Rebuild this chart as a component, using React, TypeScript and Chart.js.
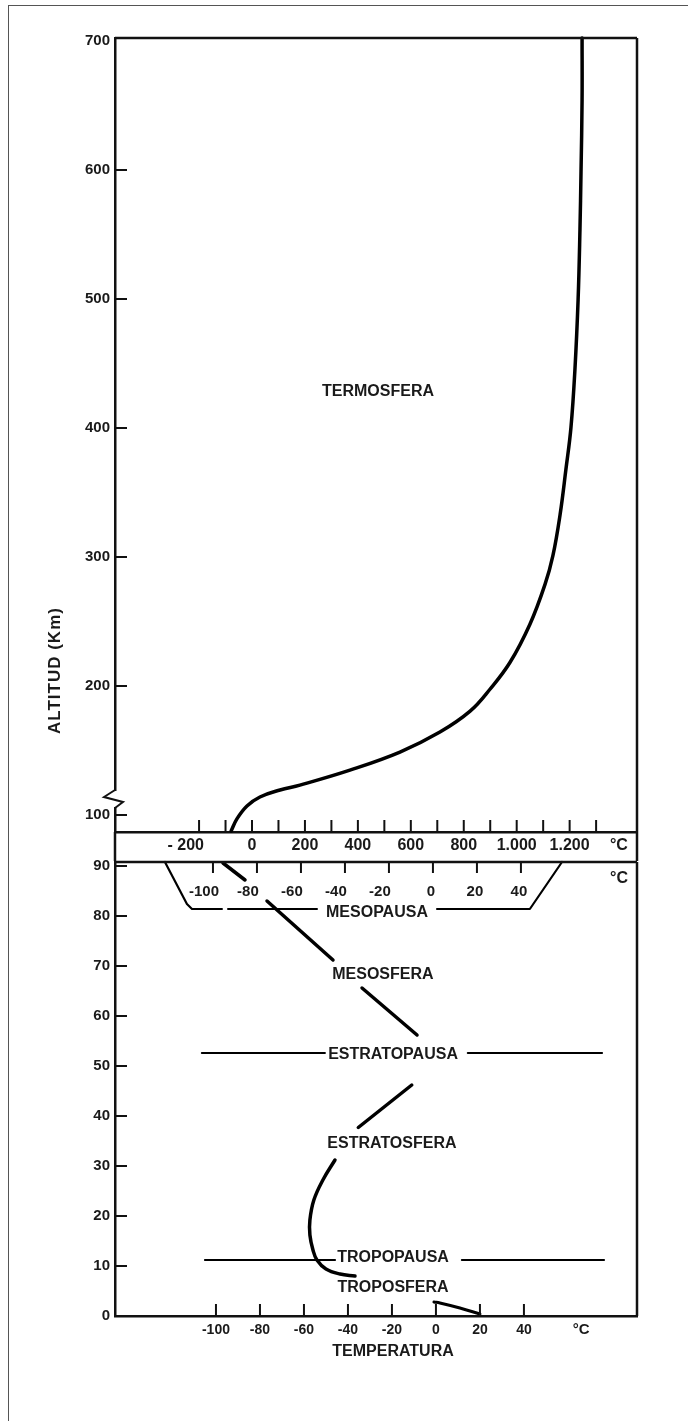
import React, { useEffect, useRef } from 'react';
import { Chart, registerables } from 'chart.js';

Chart.register(...registerables);

const FONT = '"Liberation Sans", Arial, Helvetica, sans-serif';
const INK = '#111111';
const TEXT = '#1a1a1a';

// ---------- Upper panel: thermosphere (altitude km / temperature °C) ----------
const upperAltTicks = [100, 200, 300, 400, 500, 600, 700];
const upperTempTicks = [-200, -100, 0, 100, 200, 300, 400, 500, 600, 700, 800, 900, 1000, 1100, 1200, 1300];
const upperTempLabels = ['- 200      ', '', '0', '', '200', '', '400', '', '600', '', '800', '', '1.000', '', '1.200', ''];
const thermoTemp = [-79, -57, -19, 30, 106, 181, 370, 559, 710, 824, 899, 975, 1050, 1107, 1137, 1164, 1186, 1205, 1220, 1232, 1239, 1243, 1247, 1247];
const thermoAlt = [87.6, 97, 107, 114, 119.4, 123.2, 134.8, 148.8, 164.3, 180.5, 197.5, 218.4, 247.9, 278.8, 301.3, 333, 368, 400.4, 445.3, 499.5, 553.7, 598.6, 654.3, 702.3];

// ---------- Lower panel: 0-90 km ----------
const lowerAltTicks = [0, 10, 20, 30, 40, 50, 60, 70, 80, 90];
const lowerTempTicks = [-100, -80, -60, -40, -20, 0, 20, 40];

const mesoTempA = [-96.8, -86.8];
const mesoAltA = [90.6, 87.2];
const mesoTempB = [-76.8, -46.8];
const mesoAltB = [83, 71.2];
const mesoTempC = [-33.6, -8.6];
const mesoAltC = [65.6, 56.2];

const stratTempA = [-11, -35.3];
const stratAltA = [46.2, 37.7];
const stratTempB = [-45.9, -51.4, -55.5, -57.3, -57.3, -55.9, -54.1, -50, -43.6, -36.8];
const stratAltB = [31.2, 27.2, 23.2, 19.2, 16.2, 13.2, 11.2, 9.4, 8.4, 8.0];

const tropoTemp = [-0.9, 1.8, 10.9, 20];
const tropoAlt = [2.8, 2.6, 1.6, 0.4];

const stratopauseTempL = [-106.4, -50.5];
const stratopauseTempR = [14.5, 75.5];
const stratopauseAlt = [52.6, 52.6];

const tropopauseTempL = [-105, -45.9];
const tropopauseTempR = [11.8, 76.4];
const tropopauseAlt = [11.2, 11.2];

const mesoScaleTempL = [-123.2, -113.2, -110.9, -97.3];
const mesoScaleAltL = [90.8, 82.4, 81.4, 81.4];
const mesopauseTempM = [-94.5, -54.1];
const mesopauseAltM = [81.4, 81.4];
const mesoScaleTempR = [0.5, 42.7, 57.3];
const mesoScaleAltR = [81.4, 81.4, 90.8];

// scale ranges
const U_XMIN = -517.6, U_XMAX = 1454.5, U_YMIN = 86.84, U_YMAX = 702.3;
const L_XMIN = -145.9, L_XMAX = 91.4, L_YMIN = 0, L_YMAX = 90.8;

const pts = (xs: number[], ys: number[]) => xs.map((v, i) => ({ x: v, y: ys[i] }));

const seg = (ctx: CanvasRenderingContext2D, x1: number, y1: number, x2: number, y2: number) => {
  ctx.beginPath();
  ctx.moveTo(x1, y1);
  ctx.lineTo(x2, y2);
  ctx.stroke();
};

const txt = (ctx: CanvasRenderingContext2D, s: string, x: number, y: number, size: number) => {
  ctx.font = `bold ${size}px ${FONT}`;
  ctx.fillStyle = TEXT;
  ctx.textAlign = 'center';
  ctx.textBaseline = 'middle';
  ctx.fillText(s, x, y);
};

const BAND = 29;

const upperDecor = {
  id: 'upperDecor',
  afterDraw(chart: any) {
    const { ctx, chartArea: a } = chart;
    const x = chart.scales.x;
    const y = chart.scales.y;
    ctx.save();
    ctx.strokeStyle = INK;
    ctx.lineWidth = 2.5;
    seg(ctx, a.left, a.top, a.right, a.top);
    seg(ctx, a.right, a.top, a.right, a.bottom + BAND);
    seg(ctx, a.left, a.bottom, a.left, a.bottom + BAND);
    ctx.lineWidth = 2;
    upperAltTicks.forEach((v) => {
      if (v === 700) return;
      const py = y.getPixelForValue(v);
      seg(ctx, a.left, py, a.left + 12, py);
    });
    upperTempTicks.forEach((v) => {
      const px = x.getPixelForValue(v);
      seg(ctx, px, a.bottom, px, a.bottom - 12);
    });
    // axis break
    const c = y.getPixelForValue(112.4);
    ctx.fillStyle = '#ffffff';
    ctx.fillRect(a.left - 3, c - 8, 6, 16);
    ctx.lineWidth = 2;
    ctx.beginPath();
    ctx.moveTo(a.left, c - 9);
    ctx.lineTo(a.left - 11, c - 2);
    ctx.lineTo(a.left + 8, c + 3);
    ctx.lineTo(a.left, c + 9);
    ctx.stroke();
    // texts
    txt(ctx, '°C', x.getPixelForValue(1386), a.bottom + 14, 16);
    txt(ctx, 'TERMOSFERA', x.getPixelForValue(476), y.getPixelForValue(428.3), 16);
    ctx.save();
    ctx.translate(a.left - 60, y.getPixelForValue(212));
    ctx.rotate(-Math.PI / 2);
    (ctx as any).letterSpacing = '1px';
    txt(ctx, 'ALTITUD (Km)', 0, 0, 17);
    ctx.restore();
    ctx.restore();
  },
};

const lowerDecor = {
  id: 'lowerDecor',
  afterDraw(chart: any) {
    const { ctx, chartArea: a } = chart;
    const x = chart.scales.x;
    const y = chart.scales.y;
    ctx.save();
    ctx.strokeStyle = INK;
    ctx.lineWidth = 2.5;
    seg(ctx, a.left, a.top, a.right, a.top);
    seg(ctx, a.right, a.top, a.right, a.bottom);
    ctx.lineWidth = 2;
    lowerAltTicks.forEach((v) => {
      if (v === 0) return;
      const py = y.getPixelForValue(v);
      seg(ctx, a.left, py, a.left + 12, py);
    });
    lowerTempTicks.forEach((v) => {
      const px = x.getPixelForValue(v);
      seg(ctx, px, a.bottom, px, a.bottom - 12);
      seg(ctx, px - 3, a.top, px - 3, a.top + 11);
    });
    lowerTempTicks.forEach((v) => {
      const px = x.getPixelForValue(v) + (v < 0 ? -12 : -5);
      txt(ctx, String(v), px, a.top + 30, 15);
    });
    txt(ctx, '°C', 619, a.top + 17, 16);
    txt(ctx, '°C', x.getPixelForValue(66), a.bottom + 14, 15);
    txt(ctx, 'MESOPAUSA', x.getPixelForValue(-26.8), y.getPixelForValue(80.6), 16);
    txt(ctx, 'MESOSFERA', x.getPixelForValue(-24.1), y.getPixelForValue(68.2), 16);
    txt(ctx, 'ESTRATOPAUSA', x.getPixelForValue(-19.5), y.getPixelForValue(52.2), 16);
    txt(ctx, 'ESTRATOSFERA', x.getPixelForValue(-20), y.getPixelForValue(34.4), 16);
    txt(ctx, 'TROPOPAUSA', x.getPixelForValue(-19.5), y.getPixelForValue(11.6), 16);
    txt(ctx, 'TROPOSFERA', x.getPixelForValue(-19.5), y.getPixelForValue(5.6), 16);
    txt(ctx, 'TEMPERATURA', x.getPixelForValue(-19.5), a.bottom + 36, 16);
    ctx.restore();
  },
};

const curve = (data: any[], width = 3.5, tension = 0) => ({
  data,
  showLine: true,
  borderColor: '#000000',
  borderWidth: width,
  pointRadius: 0,
  pointHoverRadius: 0,
  tension,
  borderCapStyle: 'round',
  borderJoinStyle: 'round',
  clip: false,
});

const tickFont = (size: number) => ({ family: FONT, size, weight: 'bold' as const });

function makeUpper(canvas: HTMLCanvasElement) {
  return new Chart(canvas, {
    type: 'scatter',
    data: { datasets: [curve(pts(thermoTemp, thermoAlt), 3.5, 0.4)] as any },
    options: {
      responsive: false,
      animation: false,
      devicePixelRatio: 1,
      events: [],
      layout: { padding: { left: 0, right: 51, top: 38, bottom: 560 }, autoPadding: false } as any,
      plugins: { legend: { display: false }, tooltip: { enabled: false } },
      scales: {
        x: {
          type: 'linear',
          position: 'bottom',
          min: U_XMIN,
          max: U_XMAX,
          bounds: 'data',
          afterFit: (s: any) => { s.height = BAND; },
          afterBuildTicks: (s: any) => { s.ticks = upperTempTicks.map((v) => ({ value: v })); },
          grid: { display: false, drawTicks: false },
          border: { display: true, color: INK, width: 2.5 },
          ticks: {
            autoSkip: false, maxRotation: 0, minRotation: 0, padding: 4, color: TEXT,
            font: tickFont(16),
            callback: (v: any) => {
              const i = upperTempTicks.indexOf(Number(v));
              return i >= 0 ? upperTempLabels[i] : '';
            },
          },
        },
        y: {
          type: 'linear',
          position: 'left',
          min: U_YMIN,
          max: U_YMAX,
          bounds: 'data',
          afterFit: (s: any) => { s.width = 115; },
          afterBuildTicks: (s: any) => { s.ticks = upperAltTicks.map((v) => ({ value: v })); },
          grid: { display: false, drawTicks: false },
          border: { display: true, color: INK, width: 2.5 },
          ticks: { autoSkip: false, padding: 5, color: TEXT, font: tickFont(15), callback: (v: any) => String(v) },
        },
      } as any,
    },
    plugins: [upperDecor],
  });
}

function makeLower(canvas: HTMLCanvasElement) {
  const datasets = [
    curve(pts(mesoTempA, mesoAltA), 3.5),
    curve(pts(mesoTempB, mesoAltB), 3.5),
    curve(pts(mesoTempC, mesoAltC), 3.5),
    curve(pts(stratTempA, stratAltA), 3.5),
    curve(pts(stratTempB, stratAltB), 3.5, 0.4),
    curve(pts(tropoTemp, tropoAlt), 3, 0.4),
    curve(pts(stratopauseTempL, stratopauseAlt), 2.2),
    curve(pts(stratopauseTempR, stratopauseAlt), 2.2),
    curve(pts(tropopauseTempL, tropopauseAlt), 2.2),
    curve(pts(tropopauseTempR, tropopauseAlt), 2.2),
    curve(pts(mesoScaleTempL, mesoScaleAltL), 2.2),
    curve(pts(mesopauseTempM, mesopauseAltM), 2.2),
    curve(pts(mesoScaleTempR, mesoScaleAltR), 2.2),
  ];
  return new Chart(canvas, {
    type: 'scatter',
    data: { datasets: datasets as any },
    options: {
      responsive: false,
      animation: false,
      devicePixelRatio: 1,
      events: [],
      layout: { padding: { left: 0, right: 51, top: 862, bottom: 75 }, autoPadding: false } as any,
      plugins: { legend: { display: false }, tooltip: { enabled: false } },
      scales: {
        x: {
          type: 'linear',
          position: 'bottom',
          min: L_XMIN,
          max: L_XMAX,
          bounds: 'data',
          afterFit: (s: any) => { s.height = 30; },
          afterBuildTicks: (s: any) => { s.ticks = lowerTempTicks.map((v) => ({ value: v })); },
          grid: { display: false, drawTicks: false },
          border: { display: true, color: INK, width: 2.5 },
          ticks: { autoSkip: false, maxRotation: 0, minRotation: 0, padding: 6, color: TEXT, font: tickFont(14), callback: (v: any) => String(v) },
        },
        y: {
          type: 'linear',
          position: 'left',
          min: L_YMIN,
          max: L_YMAX,
          bounds: 'data',
          afterFit: (s: any) => { s.width = 115; },
          afterBuildTicks: (s: any) => { s.ticks = lowerAltTicks.map((v) => ({ value: v })); },
          grid: { display: false, drawTicks: false },
          border: { display: true, color: INK, width: 2.5 },
          ticks: { autoSkip: false, padding: 5, color: TEXT, font: tickFont(15), callback: (v: any) => String(v) },
        },
      } as any,
    },
    plugins: [lowerDecor],
  });
}

const W = 688;
const H = 1421;

export default function App() {
  const upperRef = useRef<HTMLCanvasElement | null>(null);
  const lowerRef = useRef<HTMLCanvasElement | null>(null);

  useEffect(() => {
    Chart.defaults.font.family = FONT;
    const a = upperRef.current ? makeUpper(upperRef.current) : null;
    const b = lowerRef.current ? makeLower(lowerRef.current) : null;
    return () => {
      a?.destroy();
      b?.destroy();
    };
  }, []);

  const cv: React.CSSProperties = { position: 'absolute', left: 0, top: 0, width: W, height: H };
  return (
    <div style={{ position: 'absolute', left: 0, top: 0, width: W, height: H, background: '#ffffff', overflow: 'hidden' }}>
      <div style={{ position: 'absolute', left: 8, top: 5, width: W, height: H, borderLeft: '1.5px solid #555', borderTop: '1.5px solid #555' }} />
      <canvas ref={lowerRef} width={W} height={H} style={cv} />
      <canvas ref={upperRef} width={W} height={H} style={cv} />
    </div>
  );
}
